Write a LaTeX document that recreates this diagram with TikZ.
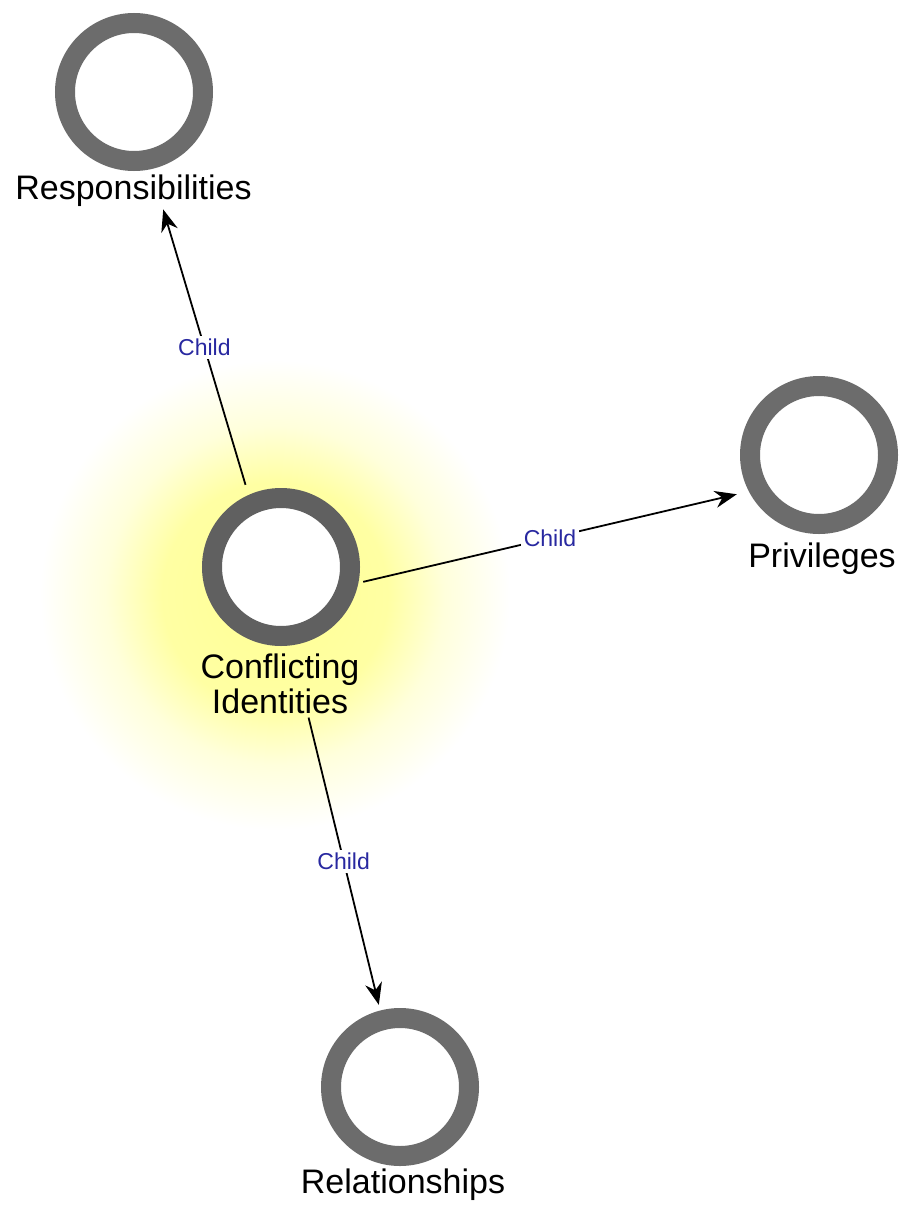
\documentclass[tikz,border=0pt]{standalone}
\usepackage{fontspec}
\setmainfont{Liberation Sans}
\usetikzlibrary{arrows.meta,fit}
\pgfdeclareradialshading{glowshade}{\pgfpoint{0bp}{0bp}}{color(0bp)=(yellow!42); color(12bp)=(yellow!36); color(18bp)=(yellow!14); color(25bp)=(white); color(50bp)=(white)}
\definecolor{ring}{RGB}{108,108,108}
\definecolor{ringdark}{RGB}{96,96,96}
\definecolor{childblue}{RGB}{40,40,160}
\begin{document}
\begin{tikzpicture}[x=1pt,y=-1pt,
  concept/.style={circle, draw=ring, line width=20pt, minimum size=138pt, inner sep=0pt, fill=white},
  lbl/.style={font=\fontsize{34}{35}\selectfont, inner sep=0pt, align=center},
  grp/.style={inner sep=3pt},
  link/.style={line width=1.8pt, -{Stealth[length=22pt,width=17pt]}},
  childlbl/.style={font=\fontsize{23}{25}\selectfont, text=childblue, fill=white, inner sep=3pt}]
\useasboundingbox (0,0) rectangle (898,1207);
\fill[white] (0,0) rectangle (898,1207);
\shade[shading=glowshade] (275,595) circle (235);
\node[concept, draw=ringdark] (cc) at (281,567) {};
\node[lbl, anchor=north] (cl) at (280,654) {Conflicting\\Identities};
\node[concept] (rc) at (134,92) {};
\node[lbl, anchor=base] (rl) at (133.5,199) {Responsibilities};
\node[concept] (pc) at (819,455) {};
\node[lbl, anchor=base] (pl) at (822,567) {Privileges};
\node[concept] (xc) at (400,1087) {};
\node[lbl, anchor=base] (xl) at (403,1193) {Relationships};
\node[grp, fit=(cc)(cl)] (C) {};
\node[grp, fit=(rc)(rl)] (R) {};
\node[grp, fit=(pc)(pl)] (P) {};
\node[grp, fit=(xc)(xl)] (X) {};
\draw[link] (C) -- (R) node[midway, childlbl] {Child};
\draw[link] (C) -- (P) node[midway, childlbl] {Child};
\draw[link] (C) -- (X) node[midway, childlbl] {Child};
\end{tikzpicture}
\end{document}
